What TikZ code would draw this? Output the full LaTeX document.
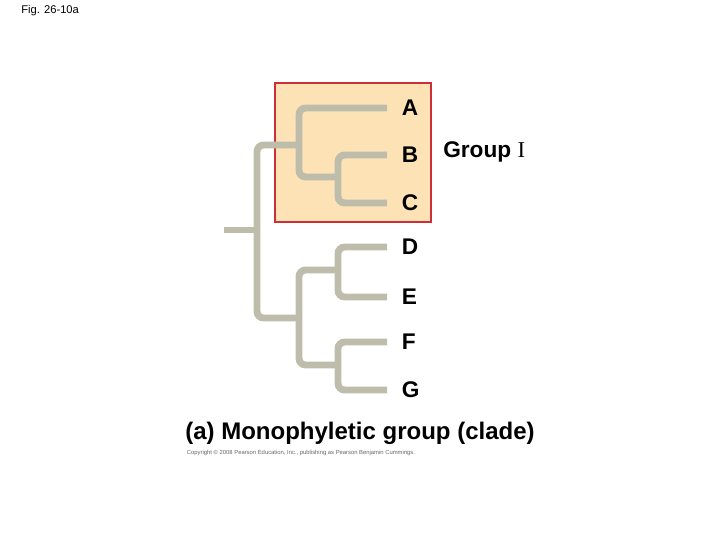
\documentclass[tikz,border=0pt]{standalone}
\usepackage{fontspec}
\setmainfont{Liberation Sans}
\newfontfamily\serifI{Liberation Serif}
\usepackage{tikz}
\usetikzlibrary{positioning}

\definecolor{branchgray}{RGB}{190,189,172}
\definecolor{cladefill}{RGB}{253,226,182}
\definecolor{cladered}{RGB}{206,46,56}

\begin{document}
\begin{tikzpicture}[x=0.75pt,y=-0.75pt,
    branch/.style={draw=branchgray, line width=5.2pt, rounded corners=5pt},
    leaf/.style={inner sep=0pt, anchor=west, font=\fontsize{17}{19}\selectfont\bfseries}]
    \useasboundingbox (0,0) rectangle (720,540);

    % the clade box sits behind the tree
    \draw[fill=cladefill, draw=cladered, line width=1.5pt] (275,83) rectangle (431,222);

    \coordinate (stub) at (224,230);
    \coordinate (root) at (257,230);
    \coordinate (nABC) at (299,145);
    \coordinate (nBC) at (338,177);
    \coordinate (nDG) at (299,318);
    \coordinate (nDE) at (338,270);
    \coordinate (nFG) at (338,365);

    \foreach \t/\y in {A/108,B/155,C/203,D/247,E/297,F/342,G/390}
    {
        \coordinate (tip\t) at (387,\y);
        \node[leaf, right=11pt of tip\t] (lab\t) {\t};
    }

    \draw[branch] (stub) -- (root);
    \draw[branch] (root) |- (nABC);
    \draw[branch] (root) |- (nDG);
    \draw[branch] (nABC) |- (tipA);
    \draw[branch] (nABC) |- (nBC);
    \draw[branch] (nBC) |- (tipB);
    \draw[branch] (nBC) |- (tipC);
    \draw[branch] (nDG) |- (nDE);
    \draw[branch] (nDG) |- (nFG);
    \draw[branch] (nDE) |- (tipD);
    \draw[branch] (nDE) |- (tipE);
    \draw[branch] (nFG) |- (tipF);
    \draw[branch] (nFG) |- (tipG);

    \node[leaf] (grp) at (443,152) {Group {\serifI\mdseries I}};

    \node[anchor=north west, inner sep=0pt, font=\fontsize{8.4}{10}\selectfont] (fig) at (21,5) {Fig. 26-10a};
    \node[font=\fontsize{18}{21}\selectfont\bfseries] (caption) at (360,433) {(a) Monophyletic group (clade)};
    \node[font=\fontsize{4.4}{5}\selectfont, text=black!60] (copy) at (301,453)
        {Copyright \textcopyright{} 2008 Pearson Education, Inc., publishing as Pearson Benjamin Cummings.};
\end{tikzpicture}
\end{document}
